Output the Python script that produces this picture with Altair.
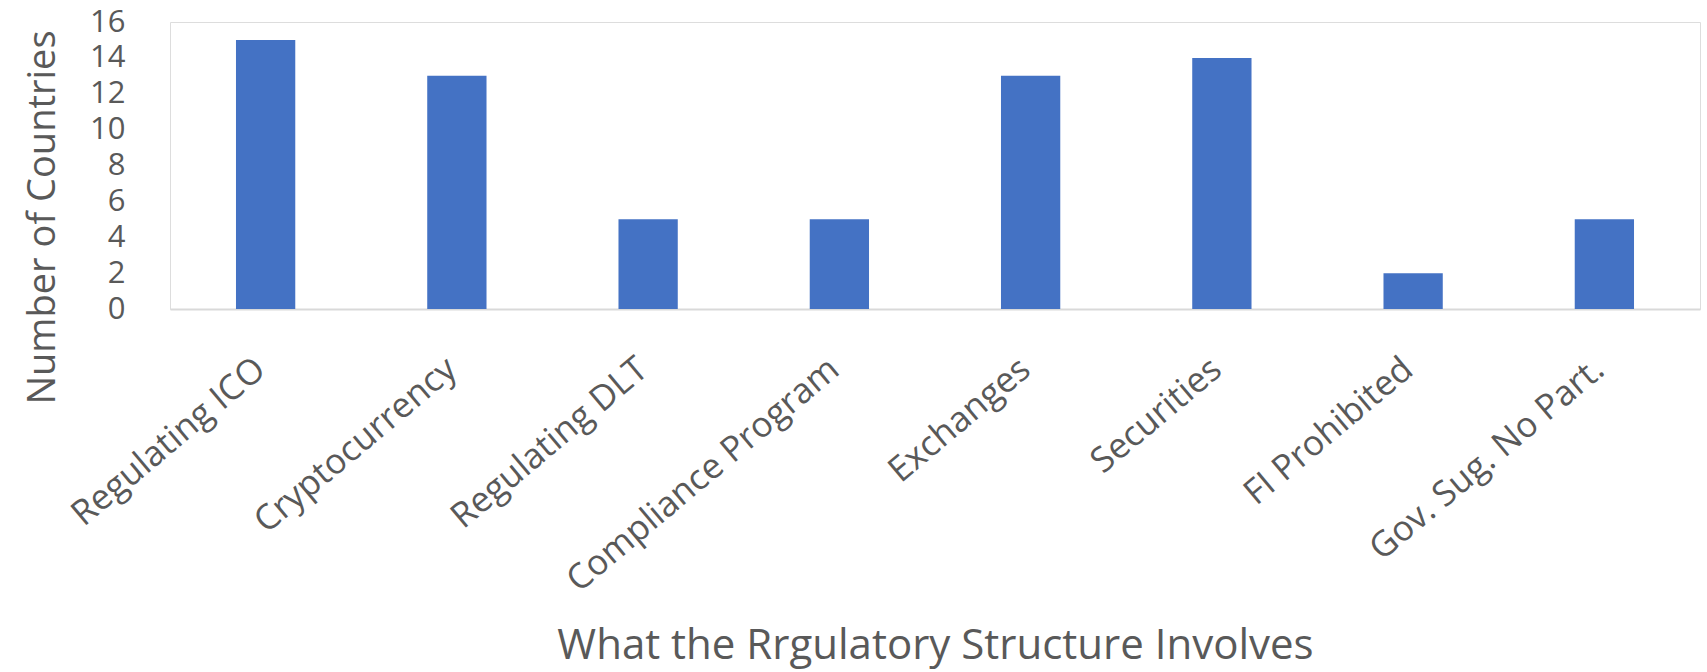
import altair as alt
import pandas as pd

categories = ["Regulating ICO", "Cryptocurrency", "Regulating DLT", "Compliance Program",
              "Exchanges", "Securities", "FI Prohibited", "Gov. Sug. No Part."]
values = [15, 13, 5, 5, 13, 14, 2, 5]
y_ticks = [0, 2, 4, 6, 8, 10, 12, 14, 16]

df = pd.DataFrame({"category": categories, "count": values})

FONT = "Open Sans"
GRAY = "#595959"

chart = alt.Chart(df).mark_bar(color="#4472C4").encode(
    x=alt.X("category:N", sort=categories,
            scale=alt.Scale(paddingInner=0.69, paddingOuter=0.345),
            axis=alt.Axis(title="What the Rrgulatory Structure Involves",
                          labelAngle=-40, labelFontSize=35, labelColor=GRAY,
                          labelFont=FONT, labelPadding=42, labelOffset=-16,
                          labelLimit=0, ticks=False,
                          domainColor="#D9D9D9", domainWidth=2,
                          titleFont=FONT, titleFontSize=42, titleColor=GRAY,
                          titleFontWeight="normal", titleY=336, titleBaseline="middle")),
    y=alt.Y("count:Q", scale=alt.Scale(domain=[0, 16]),
            axis=alt.Axis(title="Number of Countries", values=y_ticks,
                          labelFontSize=31, labelColor=GRAY, labelFont=FONT,
                          labelPadding=45, ticks=False, domain=False, grid=False,
                          titleFont=FONT, titleFontSize=38, titleColor=GRAY,
                          titleFontWeight="normal", titleX=-127, titleY=195,
                          titleBaseline="middle", titleAngle=-90)),
).properties(
    width=1530, height=287,
    autosize=alt.AutoSizeParams(type="none"),
    padding={"left": 170, "top": 22, "right": 7, "bottom": 363},
).configure_view(stroke=None).configure(background="white")

chart.save("out.html", embed_options={"renderer": "svg", "actions": False})
